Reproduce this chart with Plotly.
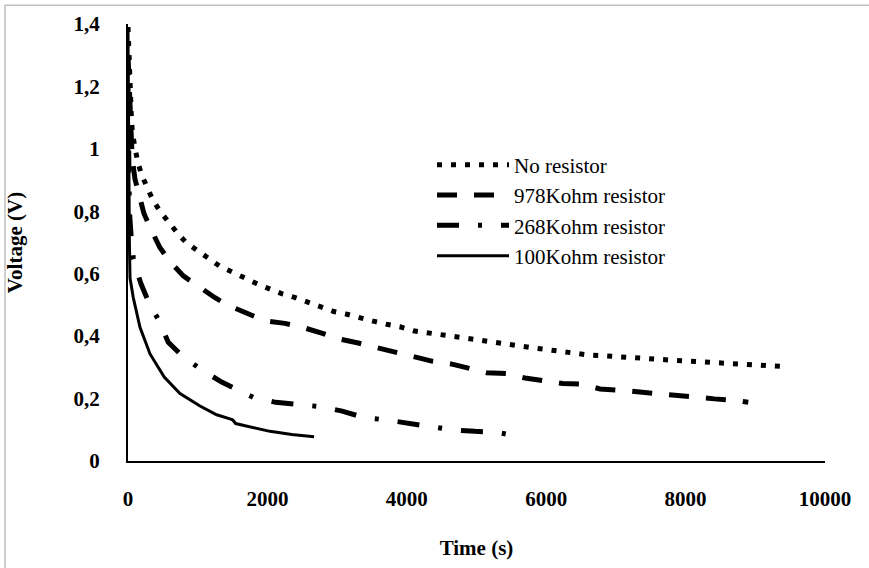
import plotly.graph_objects as go

# ---- data ----
t_none = [0, 10, 20, 35, 50, 67, 100, 139, 197, 268, 354, 459, 574, 703, 832, 986, 1148, 1310, 1492, 1664,
          1841, 2013, 2205, 2391, 2582, 2764, 2951, 3142, 3329, 3520, 3711, 3902, 4094, 4290, 4486, 4677,
          4873, 5069, 5265, 5456, 5653, 5849, 6045, 6236, 6432, 6628, 6825, 7021, 7217, 7413, 7609, 7805,
          8001, 8197, 8393, 8590, 8785, 8981, 9178, 9378]
v_none = [1.39, 1.30, 1.22, 1.15, 1.09, 1.045, 1.003, 0.958, 0.916, 0.876, 0.837, 0.800, 0.766, 0.732, 0.700,
          0.675, 0.648, 0.625, 0.606, 0.587, 0.569, 0.553, 0.536, 0.524, 0.510, 0.495, 0.479, 0.470, 0.458,
          0.448, 0.438, 0.430, 0.417, 0.412, 0.407, 0.399, 0.393, 0.386, 0.380, 0.373, 0.366, 0.361, 0.356,
          0.351, 0.343, 0.339, 0.337, 0.335, 0.333, 0.329, 0.326, 0.323, 0.320, 0.318, 0.315, 0.311, 0.309,
          0.307, 0.305, 0.303]

t_978 = [0, 30, 60, 100, 148, 230, 326, 459, 603, 793, 1009, 1248, 1463, 1726, 1966, 2252, 2507, 2779, 3027,
         3304, 3558, 3831, 4085, 4357, 4634, 4897, 5146, 5433, 5696, 5968, 6237, 6509, 6772, 7049, 7321,
         7585, 7862, 8135, 8412, 8684, 8899]
v_978 = [1.30, 1.08, 0.97, 0.903, 0.861, 0.792, 0.744, 0.683, 0.639, 0.593, 0.560, 0.523, 0.496, 0.470,
         0.449, 0.441, 0.428, 0.410, 0.391, 0.378, 0.364, 0.351, 0.333, 0.320, 0.311, 0.296, 0.283, 0.280,
         0.266, 0.257, 0.248, 0.246, 0.231, 0.227, 0.221, 0.219, 0.209, 0.206, 0.199, 0.195, 0.188]

t_268 = [0, 10, 20, 45, 76, 182, 291, 449, 578, 785, 1057, 1344, 1564, 1798, 2119, 2453, 2765, 3073, 3386,
         3694, 4017, 4333, 4644, 4978, 5290, 5610]
v_268 = [1.20, 0.95, 0.80, 0.72, 0.649, 0.570, 0.512, 0.447, 0.380, 0.335, 0.292, 0.253, 0.231, 0.204,
         0.188, 0.180, 0.174, 0.160, 0.139, 0.132, 0.121, 0.113, 0.100, 0.095, 0.092, 0.079]

t_100 = [0, 5, 12, 20, 29, 76, 172, 316, 520, 746, 1033, 1272, 1463, 1500, 1545, 1798, 2037, 2350, 2670]
v_100 = [1.38, 1.10, 0.85, 0.70, 0.586, 0.523, 0.428, 0.343, 0.269, 0.216, 0.176, 0.148, 0.135, 0.132,
         0.120, 0.106, 0.095, 0.085, 0.078]

names = ["No resistor", "978Kohm resistor", "268Kohm resistor", "100Kohm resistor"]

x_ticks = [0, 2000, 4000, 6000, 8000, 10000]
x_ticktext = ["0", "2000", "4000", "6000", "8000", "10000"]
y_ticks = [0, 0.2, 0.4, 0.6, 0.8, 1.0, 1.2, 1.4]
y_ticktext = ["0", "0,2", "0,4", "0,6", "0,8", "1", "1,2", "1,4"]

FONT = "Liberation Serif, Times New Roman, serif"

fig = go.Figure()
fig.add_trace(go.Scatter(x=t_none, y=v_none, mode="lines", name=names[0],
                         line=dict(color="black", width=5, dash="5px,9px")))
fig.add_trace(go.Scatter(x=t_978, y=v_978, mode="lines", name=names[1],
                         line=dict(color="black", width=5, dash="20px,17px")))
fig.add_trace(go.Scatter(x=t_268, y=v_268, mode="lines", name=names[2],
                         line=dict(color="black", width=5, dash="22px,19px,4px,19px")))
fig.add_trace(go.Scatter(x=t_100, y=v_100, mode="lines", name=names[3],
                         line=dict(color="black", width=3)))

W, H = 869, 568
L, R, T, B = 128, 44, 23, 103
pw, ph = W - L - R, H - T - B

def px2paper_x(px):
    return (px - L) / pw

def px2paper_y(py):
    return (H - B - py) / ph

fig.add_shape(type="rect", xref="paper", yref="paper",
              x0=px2paper_x(5), x1=px2paper_x(1000), y0=px2paper_y(700), y1=px2paper_y(4),
              line=dict(color="#bfbfbf", width=1.5), fillcolor="rgba(0,0,0,0)", layer="below")

fig.update_layout(
    width=W, height=H,
    margin=dict(l=L, r=R, t=T, b=B, pad=0),
    paper_bgcolor="white", plot_bgcolor="white",
    font=dict(family=FONT, color="black", size=20),
    showlegend=True,
    legend=dict(x=px2paper_x(432), y=px2paper_y(145), xanchor="left", yanchor="top",
                bgcolor="rgba(0,0,0,0)", font=dict(size=21, family=FONT),
                itemwidth=72, tracegroupgap=0),
    xaxis=dict(range=[0, 10000], tickvals=x_ticks, ticktext=x_ticktext,
               showgrid=False, zeroline=False, showline=True, linecolor="black", linewidth=2,
               ticks="", tickfont=dict(size=21, family=FONT, weight="bold"),
               ticklabelstandoff=18,
               title=dict(text="<b>Time (s)</b>", font=dict(size=21, family=FONT), standoff=30)),
    yaxis=dict(range=[0, 1.4], tickvals=y_ticks, ticktext=y_ticktext,
               showgrid=False, zeroline=False, showline=True, linecolor="black", linewidth=2,
               ticks="", tickfont=dict(size=21, family=FONT, weight="bold"),
               ticklabelstandoff=22,
               title=dict(text="<b>Voltage (V)</b>", font=dict(size=21, family=FONT), standoff=45)),
)

fig.write_html("out.html")
